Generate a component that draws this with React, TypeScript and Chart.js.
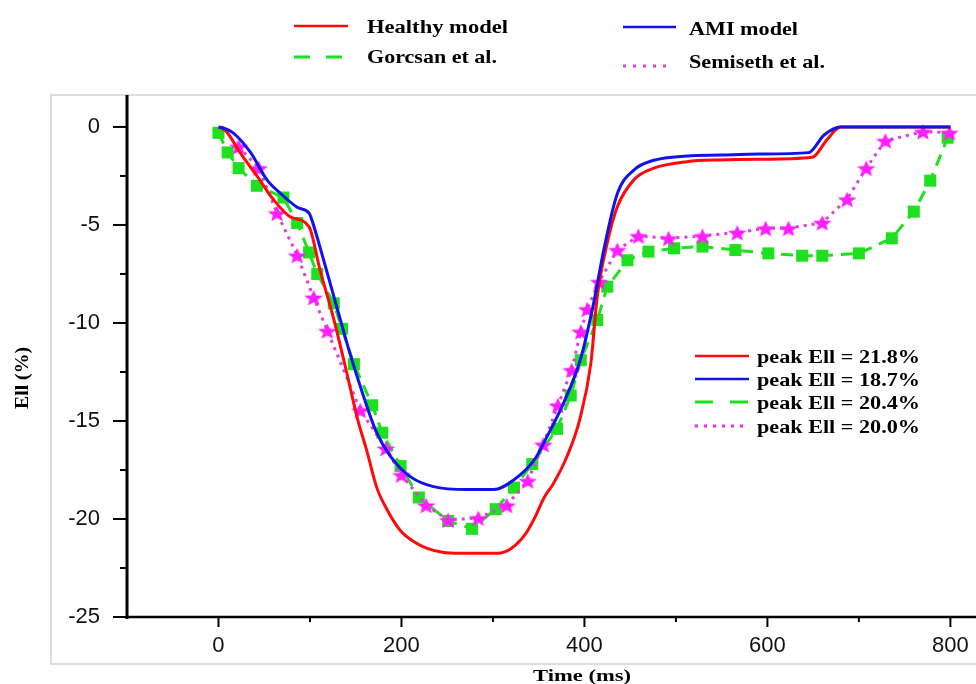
import React, { useEffect, useRef } from 'react';
import { Chart, registerables } from 'chart.js';

Chart.register(...registerables);

// ---- Data ----
const healthyX = [0, 8, 24, 42, 60, 79, 99, 111, 126, 140, 152, 162, 173, 184, 199, 215, 228, 245, 264, 305, 320, 335, 345, 356, 366, 381, 395, 407, 414, 425, 436, 454, 476, 512, 549, 592, 649, 665, 680, 800];
const healthyY = [0, -0.2, -1.34, -2.5, -3.7, -4.6, -5.1, -7.3, -9.8, -12.5, -14.9, -16.5, -18.4, -19.5, -20.6, -21.2, -21.5, -21.7, -21.75, -21.75, -21.5, -20.8, -20.0, -18.9, -18.2, -16.8, -14.9, -12.06, -8.66, -5.9, -4.07, -2.7, -2.1, -1.77, -1.68, -1.65, -1.55, -0.66, 0, 0];

const amiX = [0, 5, 16, 35, 53, 68, 86, 99, 101, 115, 130, 144, 159, 172, 188, 210, 235, 272, 301, 323, 345, 358, 378, 396, 410, 421, 436, 454, 476, 512, 549, 592, 645, 662, 680, 800];
const amiY = [0, -0.05, -0.3, -1.3, -2.7, -3.4, -4.1, -4.4, -4.6, -6.8, -9.3, -11.6, -13.8, -15.5, -16.8, -17.85, -18.35, -18.5, -18.5, -18.0, -17.0, -15.9, -14.0, -11.8, -9.0, -6.3, -3.4, -2.2, -1.7, -1.48, -1.43, -1.38, -1.31, -0.41, 0, 0];

const gorcsanX = [0, 10, 22, 42, 71, 86, 99, 108, 126, 135, 148, 168, 179, 199, 219, 251, 277, 303, 323, 343, 370, 385, 396, 414, 425, 447, 470, 498, 529, 565, 601, 638, 660, 700, 736, 760, 778, 797];
const gorcsanY = [-0.3, -1.3, -2.1, -3.0, -3.6, -4.9, -6.4, -7.5, -9.0, -10.3, -12.1, -14.2, -15.6, -17.3, -18.9, -20.1, -20.5, -19.5, -18.4, -17.2, -15.4, -13.7, -11.9, -9.85, -8.15, -6.8, -6.36, -6.19, -6.1, -6.28, -6.45, -6.57, -6.57, -6.45, -5.68, -4.32, -2.74, -0.55];

const semisethX = [22, 44, 64, 86, 104, 119, 155, 183, 200, 227, 251, 284, 315, 338, 355, 371, 386, 396, 403, 416, 436, 459, 492, 529, 567, 598, 623, 660, 687, 708, 729, 770, 799];
const semisethY = [-1.0, -2.1, -4.4, -6.55, -8.7, -10.4, -14.45, -16.4, -17.75, -19.3, -20.05, -19.95, -19.3, -18.05, -16.2, -14.2, -12.4, -10.44, -9.3, -7.9, -6.28, -5.56, -5.68, -5.56, -5.39, -5.17, -5.17, -4.88, -3.69, -2.1, -0.7, -0.24, -0.29];

const seriesNames = ['Healthy model', 'AMI model', 'Gorcsan et al.', 'Semiseth et al.'];
const peakLabels = ['peak Ell = 21.8%', 'peak Ell = 18.7%', 'peak Ell = 20.4%', 'peak Ell = 20.0%'];
const xMajorStep = 200;
const xMinorStep = 100;
const yMajorStep = 5;
const yMinorStep = 2.5;
const xTitle = 'Time (ms)';
const yTitle = 'Ell (%)';

// ---- Styles ----
const RED = '#ff0a0a';
const BLUE = '#1212ee';
const GREEN = '#1fe01f';
const MAGENTA_LINE = '#e23be2';
const MAGENTA_STAR = '#ff1eff';
const SERIF = "'Liberation Serif', 'Times New Roman', serif";
const SANS = "'Liberation Sans', Arial, sans-serif";

function zip(xs: number[], ys: number[]) {
  return xs.map((x, i) => ({ x, y: ys[i] }));
}

function isMultiple(v: number, step: number) {
  const r = Math.abs(v / step - Math.round(v / step));
  return r < 1e-6;
}

function makeStar(r: number, color: string) {
  const sx = 1.15;
  const c = document.createElement('canvas');
  const w = Math.ceil(r * 2 * sx + 2);
  const h = Math.ceil(r * 2 + 2);
  c.width = w;
  c.height = h;
  const g = c.getContext('2d')!;
  g.fillStyle = color;
  g.beginPath();
  for (let i = 0; i < 10; i++) {
    const rad = i % 2 === 0 ? r : r * 0.45;
    const a = -Math.PI / 2 + (i * Math.PI) / 5;
    const px = w / 2 + rad * Math.cos(a) * sx;
    const py = h / 2 + 1 + rad * Math.sin(a);
    if (i === 0) g.moveTo(px, py);
    else g.lineTo(px, py);
  }
  g.closePath();
  g.fill();
  return c;
}

function drawStretchedText(ctx: CanvasRenderingContext2D, text: string, x: number, baseline: number, targetW: number, font: string) {
  ctx.save();
  ctx.font = font;
  ctx.textAlign = 'left';
  ctx.textBaseline = 'alphabetic';
  const w = ctx.measureText(text).width;
  const s = w > 0 ? targetW / w : 1;
  ctx.translate(x, baseline);
  ctx.scale(s, 1);
  ctx.fillStyle = '#000';
  ctx.fillText(text, 0, 0);
  ctx.restore();
}

function sampleLine(ctx: CanvasRenderingContext2D, x1: number, x2: number, y: number, color: string, dash: number[], width: number) {
  ctx.save();
  ctx.strokeStyle = color;
  ctx.lineWidth = width;
  ctx.setLineDash(dash);
  ctx.beginPath();
  ctx.moveTo(x1, y);
  ctx.lineTo(x2, y);
  ctx.stroke();
  ctx.restore();
}

const styles = [
  { color: RED, width: 2.5 },
  { color: BLUE, width: 2.5 },
  { color: GREEN, width: 3 },
  { color: MAGENTA_LINE, width: 3 },
];

const decorPlugin = {
  id: 'decor',
  beforeDraw(chart: any) {
    const ctx = chart.ctx as CanvasRenderingContext2D;
    ctx.save();
    ctx.fillStyle = '#ffffff';
    ctx.fillRect(0, 0, chart.width, chart.height);
    ctx.strokeStyle = '#d2d2d2';
    ctx.lineWidth = 1.5;
    ctx.beginPath();
    ctx.moveTo(chart.width, 95);
    ctx.lineTo(51, 95);
    ctx.lineTo(51, 664);
    ctx.lineTo(chart.width, 664);
    ctx.stroke();
    ctx.restore();
  },
  afterDraw(chart: any) {
    const ctx = chart.ctx as CanvasRenderingContext2D;
    const area = chart.chartArea;
    const xs = chart.scales.x;
    const ys = chart.scales.y;
    ctx.save();
    ctx.strokeStyle = '#000';
    // axis lines
    ctx.lineWidth = 3;
    ctx.beginPath();
    ctx.moveTo(area.left, area.top);
    ctx.lineTo(area.left, area.bottom + 2);
    ctx.stroke();
    ctx.lineWidth = 2.5;
    ctx.beginPath();
    ctx.moveTo(area.left - 1.5, area.bottom);
    ctx.lineTo(chart.width, area.bottom);
    ctx.stroke();
    // y ticks
    ctx.lineWidth = 2;
    ys.ticks.forEach((t: any) => {
      if (!isMultiple(t.value, yMinorStep) || t.value > 0) return;
      const py = ys.getPixelForValue(t.value);
      const len = isMultiple(t.value, yMajorStep) ? 14 : 7;
      ctx.beginPath();
      ctx.moveTo(area.left - len, py);
      ctx.lineTo(area.left, py);
      ctx.stroke();
    });
    // x ticks
    xs.ticks.forEach((t: any) => {
      if (t.value <= xs.min || !isMultiple(t.value, xMinorStep)) return;
      const px = xs.getPixelForValue(t.value);
      const len = isMultiple(t.value, xMajorStep) ? 10 : 5;
      ctx.beginPath();
      ctx.moveTo(px, area.bottom);
      ctx.lineTo(px, area.bottom + len);
      ctx.stroke();
    });
    ctx.restore();

    // axis titles
    ctx.save();
    ctx.fillStyle = '#000';
    ctx.font = `bold 18px ${SERIF}`;
    ctx.textAlign = 'center';
    ctx.textBaseline = 'middle';
    ctx.translate(23, 378);
    ctx.rotate(-Math.PI / 2);
    const tw = ctx.measureText(yTitle).width;
    ctx.scale(62 / tw, 1);
    ctx.fillText(yTitle, 0, 0);
    ctx.restore();
    drawStretchedText(ctx, xTitle, 533, 681, 98, `bold 17px ${SERIF}`);

    // top legend
    const legFont = `bold 18px ${SERIF}`;
    const top = [
      { x1: 294, x2: 348, ly: 26, tx: 367, tb: 33, tw: 141, dash: [] as number[] },
      { x1: 623, x2: 676, ly: 27, tx: 689, tb: 35, tw: 109, dash: [] as number[] },
      { x1: 294, x2: 342, ly: 57, tx: 367, tb: 63, tw: 130, dash: [16, 16] },
      { x1: 623, x2: 673, ly: 66, tx: 689, tb: 68, tw: 136, dash: [3, 7] },
    ];
    top.forEach((p, i) => {
      sampleLine(ctx, p.x1, p.x2, p.ly, styles[i].color, p.dash, styles[i].width);
      drawStretchedText(ctx, seriesNames[i], p.tx, p.tb, p.tw, legFont);
    });

    // inner legend
    const rowsY = [356, 379, 402, 426];
    const baseY = [363, 386, 409, 433];
    const innerDash = [[], [], [18, 17], [3, 6]];
    rowsY.forEach((y, i) => {
      sampleLine(ctx, 695, 749, y, i === 3 ? MAGENTA_STAR : styles[i].color, innerDash[i], styles[i].width);
      drawStretchedText(ctx, peakLabels[i], 757, baseY[i], 163, legFont);
    });
  },
};

export default function App() {
  const canvasRef = useRef<HTMLCanvasElement | null>(null);

  useEffect(() => {
    const canvas = canvasRef.current;
    if (!canvas) return;
    const star = makeStar(8.5, MAGENTA_STAR);
    const chart = new Chart(canvas, {
      type: 'line',
      data: {
        datasets: [
          {
            label: seriesNames[1],
            data: zip(amiX, amiY),
            borderColor: BLUE,
            borderWidth: 3,
            pointRadius: 0,
            cubicInterpolationMode: 'monotone',
            fill: false,
            order: 0,
          },
          {
            label: seriesNames[0],
            data: zip(healthyX, healthyY),
            borderColor: RED,
            borderWidth: 3,
            pointRadius: 0,
            cubicInterpolationMode: 'monotone',
            fill: false,
            order: 1,
          },
          {
            label: seriesNames[3],
            data: zip(semisethX, semisethY),
            borderColor: MAGENTA_LINE,
            borderWidth: 3,
            borderDash: [3, 5],
            pointStyle: star,
            pointRadius: 8,
            tension: 0,
            fill: false,
            order: 2,
          },
          {
            label: seriesNames[2],
            data: zip(gorcsanX, gorcsanY),
            borderColor: GREEN,
            borderWidth: 3,
            borderDash: [12, 8],
            pointStyle: 'rect',
            pointRadius: 8.5,
            pointBackgroundColor: GREEN,
            pointBorderColor: GREEN,
            pointBorderWidth: 0,
            tension: 0,
            fill: false,
            order: 3,
          },
        ] as any,
      },
      options: {
        responsive: false,
        animation: false,
        devicePixelRatio: 1,
        clip: false,
        layout: { autoPadding: false, padding: { top: 95, right: 0, left: 0, bottom: 0 } },
        plugins: {
          legend: { display: false },
          tooltip: { enabled: false },
          title: { display: false },
        },
        scales: {
          x: {
            type: 'linear',
            min: -100,
            max: 828,
            grid: { display: false, drawTicks: false },
            border: { display: false },
            ticks: {
              stepSize: xMinorStep,
              includeBounds: false,
              autoSkip: false,
              maxRotation: 0,
              padding: 16,
              color: '#111',
              font: { family: SANS, size: 22 },
              callback: (v: any) => (Number(v) >= 0 && isMultiple(Number(v), xMajorStep) ? String(v) : ''),
            },
            afterFit: (scale: any) => {
              scale.height = 67;
              scale.paddingLeft = 0;
              scale.paddingRight = 0;
            },
          },
          y: {
            type: 'linear',
            min: -25,
            max: 1.63,
            grid: { display: false, drawTicks: false },
            border: { display: false },
            ticks: {
              stepSize: yMinorStep,
              includeBounds: false,
              autoSkip: false,
              padding: 27,
              color: '#111',
              font: { family: SANS, size: 22 },
              callback: (v: any) => (Number(v) <= 0 && isMultiple(Number(v), yMajorStep) ? String(v) : ''),
            },
            afterFit: (scale: any) => {
              scale.width = 127;
              scale.paddingTop = 0;
              scale.paddingBottom = 0;
            },
          },
        },
      } as any,
      plugins: [decorPlugin],
    });
    return () => chart.destroy();
  }, []);

  return (
    <div style={{ position: 'fixed', left: 0, top: 0, width: 976, height: 684, background: '#fff' }}>
      <canvas ref={canvasRef} width={976} height={684} style={{ display: 'block' }} />
    </div>
  );
}
